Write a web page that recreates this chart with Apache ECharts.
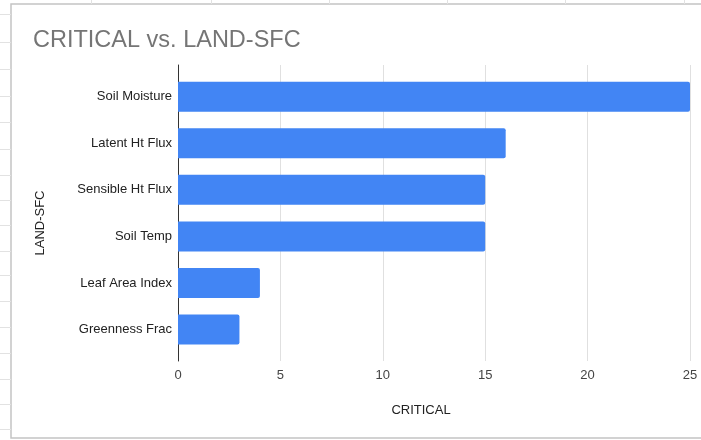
<!DOCTYPE html>
<html>
<head>
<meta charset="utf-8">
<script src="https://cdn.jsdelivr.net/npm/echarts@6/dist/echarts.min.js"></script>
<style>
html,body{margin:0;padding:0;background:#fff;}
#chart{width:701px;height:440px;}
</style>
</head>
<body>
<div id="chart"></div>
<script>
var categories = ['Soil Moisture', 'Latent Ht Flux', 'Sensible Ht Flux', 'Soil Temp', 'Leaf Area Index', 'Greenness Frac'];
var criticalValues = [25, 16, 15, 15, 4, 3];
var xTicks = [0, 5, 10, 15, 20, 25];
var titleText = 'CRITICAL vs. LAND-SFC';
var xName = 'CRITICAL';
var yName = 'LAND-SFC';

var FONT = "'Liberation Sans', Arial, sans-serif";
var chart = echarts.init(document.getElementById('chart'), null, {renderer: 'canvas'});

// spreadsheet background grid lines (decoration outside the chart frame)
var deco = [];
[14, 42, 69, 96, 122, 149, 175, 200, 225, 251, 275, 301, 327, 353, 379, 404, 429].forEach(function (y) {
  deco.push({type: 'line', shape: {x1: 0, y1: y + 0.5, x2: 11, y2: y + 0.5}, style: {stroke: '#e2e2e2', lineWidth: 1}, silent: true});
});
[91, 211, 329, 447, 565, 684].forEach(function (x) {
  deco.push({type: 'line', shape: {x1: x + 0.5, y1: 0, x2: x + 0.5, y2: 4}, style: {stroke: '#e2e2e2', lineWidth: 1}, silent: true});
});
// chart frame
deco.push({type: 'rect', shape: {x: 11, y: 4, width: 700, height: 434}, style: {fill: '#fff', stroke: '#c4c4c4', lineWidth: 1.5}, silent: true, z: -1});

chart.setOption({
  backgroundColor: '#fff',
  animation: false,
  title: {
    text: titleText,
    left: 28, top: 24,
    textStyle: {fontFamily: FONT, fontSize: 23.5, fontWeight: 'normal', color: '#757575'}
  },
  graphic: deco,
  grid: [
    {left: 178, right: 11, top: 65, height: 296},
    {left: 178, right: 11, top: 73.4, height: 279.4}
  ],
  xAxis: [
    {
      gridIndex: 0, type: 'value', min: 0, max: 25, interval: 5,
      axisLine: {show: false}, axisTick: {show: false},
      splitLine: {show: true, lineStyle: {color: '#e0e0e0', width: 1}},
      axisLabel: {margin: 8, color: '#444', fontSize: 13, fontFamily: FONT,
        formatter: function (v) { return xTicks.indexOf(v) >= 0 ? String(v) : ''; }},
      name: xName, nameLocation: 'middle', nameGap: 43,
      nameTextStyle: {color: '#222', fontSize: 13, fontFamily: FONT, padding: [0, 26, 0, 0]}
    },
    {
      gridIndex: 1, type: 'value', min: 0, max: 25, show: false
    }
  ],
  yAxis: [
    {
      gridIndex: 0, type: 'value', min: 0, max: 1,
      axisLine: {show: true, lineStyle: {color: '#333', width: 1}},
      axisTick: {show: false}, axisLabel: {show: false}, splitLine: {show: false},
      name: yName, nameLocation: 'middle', nameRotate: 90, nameGap: 131,
      nameTextStyle: {color: '#222', fontSize: 13, fontFamily: FONT, padding: [0, 20, 0, 0]}
    },
    {
      gridIndex: 1, type: 'category', data: categories, inverse: true,
      axisLine: {show: false}, axisTick: {show: false}, splitLine: {show: false},
      axisLabel: {margin: 6, color: '#222', fontSize: 13, fontFamily: FONT}
    }
  ],
  series: [{
    type: 'bar',
    xAxisIndex: 1, yAxisIndex: 1,
    data: criticalValues,
    barWidth: 30,
    itemStyle: {color: '#4285f4', borderRadius: [0, 2, 2, 0]}
  }]
});
</script>
</body>
</html>
